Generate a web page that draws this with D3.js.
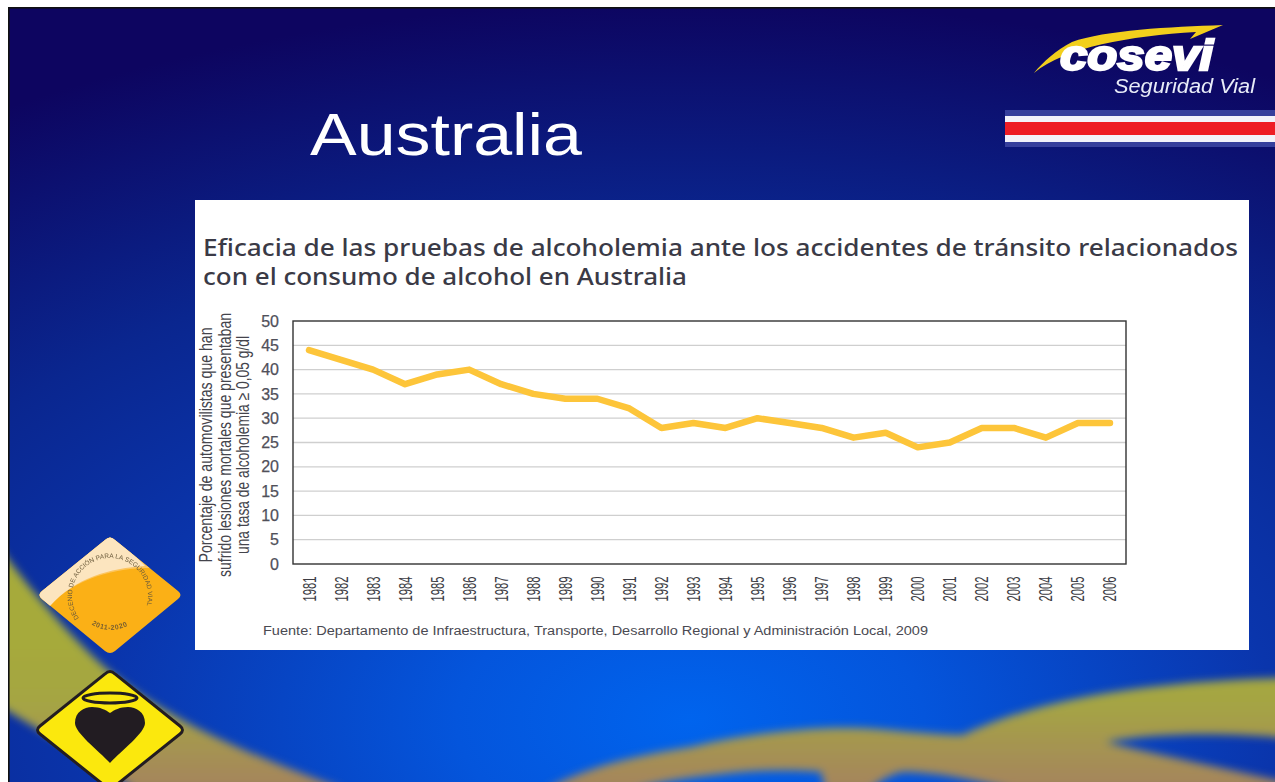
<!DOCTYPE html>
<html lang="es">
<head>
<meta charset="utf-8">
<title>Australia</title>
<script src="https://cdn.jsdelivr.net/npm/d3@7/dist/d3.min.js"></script>
<style>
html,body{margin:0;padding:0;background:#fff;overflow:hidden}
svg{display:block}
text{font-family:"Liberation Sans",Arial,sans-serif}
</style>
</head>
<body>
<svg id="c" width="1275" height="782"></svg>
<script>
const years = ["1981","1982","1983","1984","1985","1986","1987","1988","1989","1990","1991","1992","1993","1994","1995","1996","1997","1998","1999","2000","2001","2002","2003","2004","2005","2006"];
const values = [44,42,40,37,39,40,37,35,34,34,32,28,29,28,30,29,28,26,27,24,25,28,28,26,29,29];
const yTicks = [0,5,10,15,20,25,30,35,40,45,50];
const slideTitle = "Australia";
const chartTitle = ["Eficacia de las pruebas de alcoholemia ante los accidentes de tránsito relacionados","con el consumo de alcohol en Australia"];
const yLabel = ["Porcentaje de automovilistas que han","sufrido lesiones mortales que presentaban","una tasa de alcoholemia ≥ 0,05 g/dl"];
const source = "Fuente: Departamento de Infraestructura, Transporte, Desarrollo Regional y Administración Local, 2009";

const svg = d3.select("#c");
const defs = svg.append("defs");

const bg = defs.append("radialGradient").attr("id","bg").attr("gradientUnits","userSpaceOnUse")
  .attr("cx",0).attr("cy",0).attr("r",1).attr("gradientTransform","translate(690,720) scale(1300,720)");
[[0,"#0064ee"],[0.18,"#0455dc"],[0.45,"#0a35ac"],[0.68,"#0a268f"],[1,"#0d0560"]].forEach(([o,c])=>bg.append("stop").attr("offset",o).attr("stop-color",c));
const band = defs.append("linearGradient").attr("id","band").attr("gradientUnits","userSpaceOnUse").attr("x1",0).attr("y1",640).attr("x2",0).attr("y2",782);
[[0,"#a6aa3a"],[0.45,"#a5a544"],[1,"#a5865c"]].forEach(([o,c])=>band.append("stop").attr("offset",o).attr("stop-color",c));
defs.append("filter").attr("id","blur").attr("x","-10%").attr("y","-10%").attr("width","120%").attr("height","120%")
  .append("feGaussianBlur").attr("stdDeviation",4);
defs.append("filter").attr("id","soft").attr("x","-5%").attr("y","-5%").attr("width","110%").attr("height","110%")
  .append("feGaussianBlur").attr("stdDeviation",0.5);
defs.append("clipPath").attr("id","slide").append("rect").attr("x",9).attr("y",7).attr("width",1266).attr("height",775);

// Slide background
const slide = svg.append("g").attr("clip-path","url(#slide)");
slide.append("rect").attr("x",9).attr("y",7).attr("width",1266).attr("height",775).attr("fill","url(#bg)");
const bands = slide.append("g").attr("filter","url(#blur)").attr("fill","url(#band)");
bands.append("path").attr("d","M0,548 C30,590 70,635 100,663 C135,695 165,710 195,727 C250,755 300,772 345,790 L135,790 C95,760 45,735 0,706 Z");
bands.append("path").attr("d","M545,790 C590,765 640,755 691,747 C750,733 810,727 854,728 C890,729 930,735 963,735 C990,722 1020,712 1057,703 C1120,688 1200,680 1285,678 L1285,738 C1230,733 1160,732 1106,742 C1160,755 1230,770 1285,782 L1285,790 L1012,790 C975,780 935,772 902,772 C890,775 880,780 870,790 L825,790 L821,772 C790,770 760,770 732,773 C695,777 665,780 634,790 Z");
svg.append("rect").attr("x",0).attr("y",0).attr("width",1275).attr("height",7).attr("fill","#fff");
svg.append("rect").attr("x",0).attr("y",0).attr("width",9).attr("height",782).attr("fill","#fff");
svg.append("rect").attr("x",8).attr("y",7).attr("width",1267).attr("height",1.6).attr("fill","#111");
svg.append("rect").attr("x",8).attr("y",7).attr("width",1.6).attr("height",775).attr("fill","#111");

// Slide title
svg.append("text").attr("x",310).attr("y",155).attr("font-size",60).attr("fill","#fff")
  .attr("textLength",272).attr("lengthAdjust","spacingAndGlyphs").text(slideTitle);

// Logo
const logo = svg.append("g").attr("filter","url(#soft)");
logo.append("path").attr("fill","#f2cf1f").attr("d","M1034,73 C1065,47 1130,36 1196,32 L1190,39 L1223,25 C1170,27 1105,30 1072,42 C1056,50 1043,62 1034,73 Z");
logo.append("text").attr("x",1060).attr("y",70).attr("font-size",43).attr("font-weight",700).attr("font-style","italic")
  .attr("fill","#fff").attr("stroke","#fff").attr("stroke-width",2.4)
  .attr("textLength",153).attr("lengthAdjust","spacingAndGlyphs").text("cosevi");
logo.append("text").attr("x",1114).attr("y",93).attr("font-size",20).attr("font-style","italic").attr("fill","#e8ecf8")
  .attr("textLength",141).attr("lengthAdjust","spacingAndGlyphs").text("Seguridad Vial");
// Flag stripes
[[110,6,"#363f9c"],[116,6,"#f2f2fa"],[122,13,"#ee1c25"],[135,7,"#f2f2fa"],[142,5,"#363f9c"]].forEach(([y,h,c])=>
  svg.append("rect").attr("x",1005).attr("y",y).attr("width",270).attr("height",h).attr("fill",c));

// Orange badge
const badge = svg.append("g").attr("filter","url(#soft)");
const orangeD = "M105,540 Q110,535 115,540 L178,591 Q183,595 178,599 L115,651 Q110,655 105,651 L42,599 Q37,595 42,591 Z";
defs.append("clipPath").attr("id","od").append("path").attr("d",orangeD);
badge.append("path").attr("d",orangeD).attr("fill","#fbb017");
const bclip = badge.append("g").attr("clip-path","url(#od)");
bclip.append("path").attr("d","M30,530 L190,530 L190,590 L150,568 C115,568 75,578 50,606 L30,620 Z").attr("fill","#fcc55f");
bclip.append("path").attr("d","M30,560 L110,530 L145,566 C110,568 75,578 50,606 L30,620 Z").attr("fill","#fce5bf");
defs.append("path").attr("id","arc").attr("d","M79,618 A38,38 0 1 1 141,618");
defs.append("path").attr("id","arc2").attr("d","M88,622 Q110,638 134,622");
badge.append("text").attr("font-size",6.5).attr("fill","#6a5a3a")
  .append("textPath").attr("href","#arc").attr("startOffset","0").text("DECENIO DE ACCIÓN PARA LA SEGURIDAD VIAL");
badge.append("text").attr("font-size",7).attr("font-weight",700).attr("fill","#7a6030").attr("letter-spacing",0.6)
  .append("textPath").attr("href","#arc2").attr("startOffset","4").text("2011-2020");

// Yellow sign
const sign = svg.append("g").attr("filter","url(#soft)");
sign.append("path").attr("d","M105,674 Q110,669 115,674 L180,726 Q185,730 180,734 L115,786 Q110,791 105,786 L40,734 Q35,730 40,726 Z")
  .attr("fill","#fbe80a").attr("stroke","#231f20").attr("stroke-width",3);
sign.append("ellipse").attr("cx",110).attr("cy",698).attr("rx",27).attr("ry",5).attr("fill","#fbe80a").attr("stroke","#231f20").attr("stroke-width",3);
sign.append("path").attr("fill","#231f20").attr("d","M110,763 C98,750 75,733 75,723 C75,712 84,707 92,707 C100,707 106,710 110,713 C114,710 120,707 128,707 C136,707 145,712 145,723 C145,733 122,750 110,763 Z");

// White panel
svg.append("rect").attr("x",195).attr("y",200).attr("width",1054).attr("height",450).attr("fill","#fff");

// Chart heading
const titleW = [1035,484], titleY = [256,285];
chartTitle.forEach((t,i)=>svg.append("text").attr("x",203).attr("y",titleY[i])
  .style("font-family","'Noto Sans',Roboto,sans-serif").attr("font-size",23).attr("font-weight",500).attr("fill","#3a3a46")
  .attr("textLength",titleW[i]).attr("lengthAdjust","spacingAndGlyphs").text(t));

// Scales
const M = {l:293,r:1126,t:321,b:564};
const x = d3.scalePoint().domain(years).range([M.l,M.r]).padding(0.5);
const y = d3.scaleLinear().domain([0,50]).range([M.b,M.t]);

// Grid
const plot = svg.append("g");
plot.append("g").selectAll("line").data(yTicks.filter(d=>d>0&&d<50)).join("line")
  .attr("x1",M.l).attr("x2",M.r).attr("y1",d=>y(d)).attr("y2",d=>y(d))
  .attr("stroke","#cfcfcf").attr("stroke-width",1.3);

// Axes
const gy = svg.append("g").attr("transform",`translate(${M.l},0)`)
  .call(d3.axisLeft(y).tickValues(yTicks).tickSize(0).tickPadding(14));
gy.select(".domain").remove();
gy.selectAll("text").attr("font-size",16).attr("fill","#50505a").attr("stroke","#50505a").attr("stroke-width",0.25);

const gx = svg.append("g").attr("transform",`translate(0,${M.b})`)
  .call(d3.axisBottom(x).tickSize(0));
gx.select(".domain").remove();
gx.selectAll("text").attr("font-size",17.5).attr("fill","#3c3c44")
  .attr("text-anchor","middle").attr("dy",null).attr("y",null)
  .attr("transform","translate(0,25) rotate(-90) translate(0,6) scale(0.64,1)");

// Frame
plot.append("rect").attr("x",M.l).attr("y",M.t).attr("width",M.r-M.l).attr("height",M.b-M.t)
  .attr("fill","none").attr("stroke","#333").attr("stroke-width",1.4);

// Series
const line = d3.line().x((d,i)=>x(years[i])).y(d=>y(d));
svg.append("path").datum(values).attr("d",line).attr("fill","none")
  .attr("stroke","#fdc53a").attr("stroke-width",6.5).attr("stroke-linejoin","round").attr("stroke-linecap","round");

// Y label
const yl = [[212,235],[231,264],[249,218]];
yLabel.forEach((t,i)=>svg.append("text")
  .attr("transform",`translate(${yl[i][0]},445) rotate(-90)`).attr("text-anchor","middle")
  .attr("font-size",17.5).attr("fill","#44444c")
  .attr("textLength",yl[i][1]).attr("lengthAdjust","spacingAndGlyphs").text(t));

// Source
svg.append("text").attr("x",263).attr("y",635).attr("font-size",12).attr("fill","#4a4a52")
  .attr("textLength",665).attr("lengthAdjust","spacingAndGlyphs").text(source);
</script>
</body>
</html>
